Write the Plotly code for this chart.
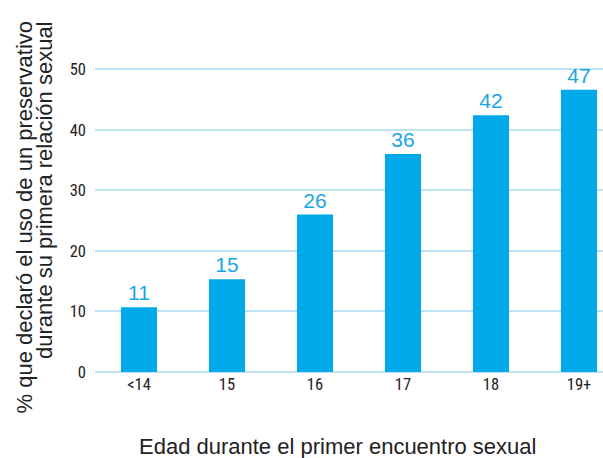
import plotly.graph_objects as go

categories = ["<14", "15", "16", "17", "18", "19+"]
values = [10.7, 15.3, 26.0, 36.0, 42.4, 46.6]
value_labels = ["11", "15", "26", "36", "42", "47"]
y_ticks = [0, 10, 20, 30, 40, 50]

BAR = "#00a9e9"
LABEL = "#1aa6e4"
GRID = "#bfe2f5"
TICKFONT = "Liberation Sans Narrow, Arial Narrow, Roboto Condensed, Liberation Sans, sans-serif"

fig = go.Figure(go.Bar(
    x=list(range(len(categories))), y=values,
    text=value_labels, textposition="outside",
    textfont=dict(color=LABEL, size=21, family="Liberation Sans, Arial, sans-serif"),
    marker=dict(color=BAR, line=dict(width=0)),
    width=0.41, cliponaxis=False,
))

W, H = 603, 458
L, R, T, B = 95, 0, 39, 86
pw, ph = W - L - R, H - T - B

def px(x):
    return (x - L) / pw

def py(y):
    return (H - y - B) / ph

fig.update_layout(
    width=W, height=H,
    margin=dict(l=L, r=R, t=T, b=B),
    plot_bgcolor="white", paper_bgcolor="white",
    showlegend=False,
    xaxis=dict(range=[-0.5, 5.273], tickmode="array",
               tickvals=list(range(len(categories))), ticktext=categories,
               showgrid=False, zeroline=False, showline=False, ticks="",
               tickfont=dict(family=TICKFONT, size=16.5, color="#222222")),
    yaxis=dict(range=[0, 55], tickmode="array", tickvals=y_ticks,
               ticktext=[str(t) for t in y_ticks],
               showgrid=True, gridcolor=GRID, gridwidth=2,
               zeroline=True, zerolinecolor=GRID, zerolinewidth=2,
               showline=False, ticks="", ticklabelstandoff=8,
               tickfont=dict(family=TICKFONT, size=16.5, color="#222222")),
    annotations=[
        dict(text="Edad durante el primer encuentro sexual", xref="paper", yref="paper",
             x=px(337), y=py(446), xanchor="center", yanchor="middle", showarrow=False,
             font=dict(family="Liberation Sans, Arial, sans-serif", size=22, color="#222222")),
        dict(text="% que declaró el uso de un preservativo", xref="paper", yref="paper",
             x=px(24), y=py(19), xanchor="center", yanchor="top", textangle=-90, showarrow=False,
             font=dict(family="Liberation Sans, Arial, sans-serif", size=22, color="#222222")),
        dict(text="durante su primera relación sexual", xref="paper", yref="paper",
             x=px(44), y=py(19), xanchor="center", yanchor="top", textangle=-90, showarrow=False,
             font=dict(family="Liberation Sans, Arial, sans-serif", size=22, color="#222222")),
    ],
)

fig.write_html("out.html", config={"displayModeBar": False},
               post_script="document.body.style.margin='0';document.body.style.overflow='hidden';")
